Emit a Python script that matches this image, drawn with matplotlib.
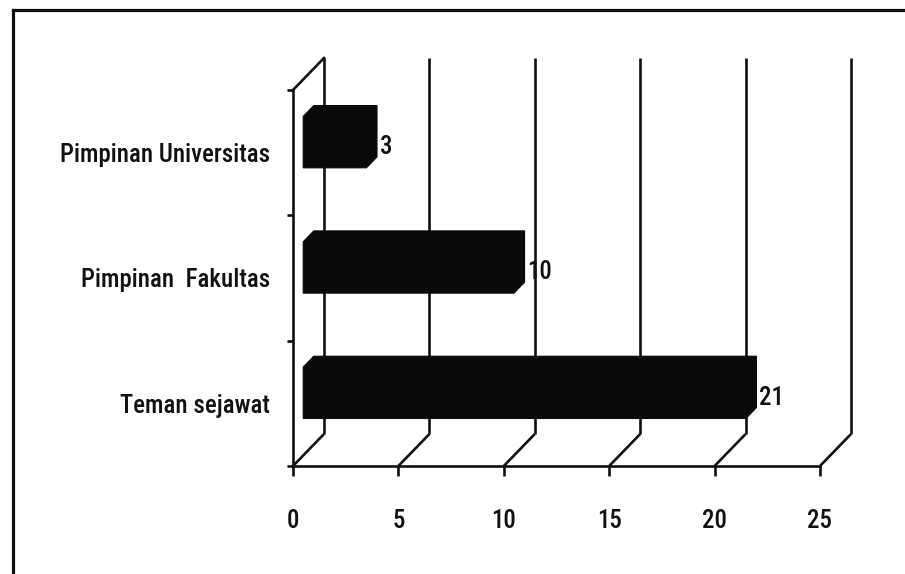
import os
import matplotlib
matplotlib.use("Agg")
import matplotlib.pyplot as plt
from matplotlib import font_manager
from matplotlib.font_manager import FontProperties
from matplotlib.lines import Line2D

# Data
categories = ["Teman sejawat", "Pimpinan  Fakultas", "Pimpinan Universitas"]
counts = [21, 10, 3]
x_ticks = [0, 5, 10, 15, 20, 25]


def pick_font_file():
    """Return a medium (or regular) condensed sans face if one is installed."""
    skip = ("italic", "oblique", "light", "thin", "black", "extra", "ultra",
            "heavy", "semicondensed")
    order = ("opensans", "notosans", "liberationsansnarrow", "roboto", "dejavu")
    found = []
    for f in font_manager.fontManager.ttflist:
        low = os.path.basename(f.fname).lower()
        key = low.replace("-", "").replace("_", "")
        if not ("condensed" in low or "narrow" in low):
            continue
        if any(k in key for k in skip):
            continue
        if "medium" in key:
            wrank = 0
        elif "semibold" in key:
            wrank = 1
        elif "bold" in key:
            continue
        else:
            wrank = 2
        rank = next((i for i, o in enumerate(order) if o in key), len(order))
        found.append((rank, wrank, f.fname))
    if found:
        return sorted(found)[0][2]
    return None


font_file = pick_font_file()
if font_file:
    base_fp = FontProperties(fname=font_file)
else:
    base_fp = FontProperties(family=["Lato", "DejaVu Sans"])

INK = "#111111"
LW = 1.9

fig = plt.figure(figsize=(9.05, 5.74), dpi=100)
fig.patch.set_facecolor("white")
W, H = 905.0, 574.0

# Size the text so the longest category label spans about 210 px
renderer = fig.canvas.get_renderer()
probe_fp = base_fp.copy()
probe_fp.set_size(20)
probe = fig.text(0, 0, categories[2], fontproperties=probe_fp)
probe_w = probe.get_window_extent(renderer).width
probe.remove()
FS = min(20.0, 20.0 * 210.0 / probe_w)
fp = base_fp.copy()
fp.set_size(FS)

# Axes = front plane of the 3-D box
ax = fig.add_axes([293 / W, (H - 466) / H, 527 / W, 376 / H])
ax.set_xlim(0, 25)
ax.set_ylim(0, 3)
ax.patch.set_alpha(0)

# Depth of the box, in data units (x: value units, y: category slots)
DX, DY = 1.47, 0.255

# Back wall gridlines and floor diagonals
for v in x_ticks:
    ax.plot([v, v + DX], [0, DY], color=INK, lw=LW, clip_on=False, zorder=1,
            solid_capstyle="butt")
    ax.plot([v + DX, v + DX], [DY, 3 + DY], color=INK, lw=LW, clip_on=False,
            zorder=1, solid_capstyle="butt")
# Side wall top edge
ax.plot([0, DX], [3, 3 + DY], color=INK, lw=LW, clip_on=False, zorder=1)

# 3-D bars: front face at depth d0, back face at depth d1
d0, d1 = 0.33, 0.67
bar_h = 0.41
for i, (cat, v) in enumerate(zip(categories, counts)):
    c = i + 0.5
    yb, yt = c - bar_h / 2, c + bar_h / 2
    fx, fy = d0 * DX, d0 * DY
    bx, by = d1 * DX, d1 * DY
    xs = [fx, fx + v, bx + v, bx + v, bx, fx]
    ys = [yb + fy, yb + fy, yb + by, yt + by, yt + by, yt + fy]
    ax.fill(xs, ys, facecolor="#0a0a0a", edgecolor="#0a0a0a", lw=0.8,
            clip_on=False, zorder=3)
    ax.annotate(str(v), xy=(bx + v, c + fy), xytext=(2, -3.5),
                textcoords="offset points", ha="left", va="center",
                fontproperties=fp, color=INK, zorder=4)

# Axes spines and ticks
for s in ("top", "right"):
    ax.spines[s].set_visible(False)
for s in ("left", "bottom"):
    ax.spines[s].set_color(INK)
    ax.spines[s].set_linewidth(LW)

ax.set_xticks(x_ticks)
ax.set_xticklabels([])
ax.tick_params(axis="x", direction="out", length=7.2, width=LW, color=INK)
for v in x_ticks:
    ax.annotate(str(v), xy=(v, 0), xytext=(0, -44.5),
                textcoords="offset points", ha="center", va="baseline",
                fontproperties=fp, color=INK, annotation_clip=False)

ax.set_yticks([0.5, 1.5, 2.5])
ax.set_yticklabels(categories, fontproperties=fp, color=INK)
ax.tick_params(axis="y", which="major", length=0, pad=16.5)
ax.set_yticks([0, 1, 2, 3], minor=True)
ax.tick_params(axis="y", which="minor", direction="out", length=4.5,
               width=LW, color=INK)

# Outer frame (its right and bottom edges fall outside the canvas)
fig.add_artist(Line2D([13 / W, 13 / W], [0, 1 - 10 / H],
                      transform=fig.transFigure, color=INK, lw=2.3))
fig.add_artist(Line2D([13 / W, 1], [1 - 10 / H, 1 - 10 / H],
                      transform=fig.transFigure, color=INK, lw=2.3))

fig.savefig("out.png", dpi=100, facecolor="white")
